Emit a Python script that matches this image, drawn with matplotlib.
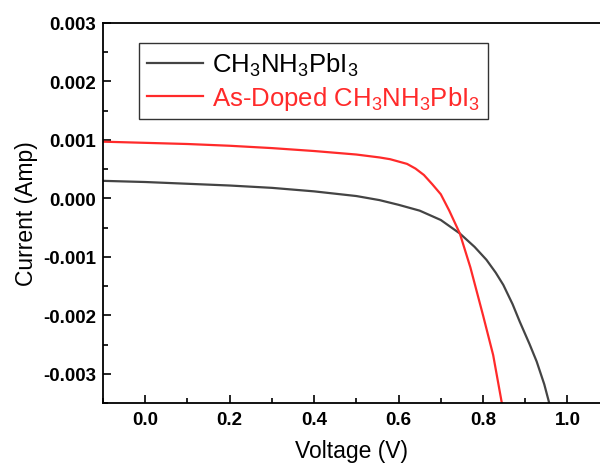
import matplotlib
matplotlib.use("Agg")
from matplotlib import pyplot as plt
from matplotlib.ticker import MultipleLocator, FormatStrFormatter

plt.rcParams['font.family'] = ['Liberation Sans', 'DejaVu Sans']
plt.rcParams['mathtext.default'] = 'regular'
plt.rcParams['axes.unicode_minus'] = False

# pristine film
v_pure = [-0.1, 0.0, 0.1, 0.2, 0.3, 0.4, 0.5, 0.555, 0.6, 0.65, 0.7,
          0.745, 0.78, 0.808, 0.83, 0.848, 0.87, 0.887, 0.91, 0.927,
          0.945, 0.956, 0.96]
i_pure = [0.00030, 0.00028, 0.00025, 0.00022, 0.00018, 0.00012, 0.00004,
          -0.00003, -0.00011, -0.00021, -0.00037, -0.0006, -0.00083,
          -0.00105, -0.00127, -0.00148, -0.00181, -0.00211, -0.00249,
          -0.00279, -0.00318, -0.00348, -0.0036]

# As-doped film
v_doped = [-0.1, 0.0, 0.1, 0.2, 0.3, 0.4, 0.5, 0.555, 0.58, 0.6, 0.62,
           0.64, 0.66, 0.68, 0.70, 0.72, 0.745, 0.77, 0.80, 0.824, 0.844,
           0.846]
i_doped = [0.00097, 0.00095, 0.00093, 0.00090, 0.00086, 0.00081, 0.00075,
           0.00070, 0.00067, 0.00063, 0.00059, 0.00051, 0.00040, 0.00024,
           0.00007, -0.00021, -0.0006, -0.00118, -0.0020, -0.00268,
           -0.00348, -0.0036]

labels = [r'CH$_3$NH$_3$PbI$_3$', r'As-Doped CH$_3$NH$_3$PbI$_3$']

fig = plt.figure(figsize=(6, 4.64), dpi=100)
ax = fig.add_axes([0.1717, 0.1293, 0.8283, 0.819])

ax.plot(v_pure, i_pure, color='#444444', lw=1.6, label=labels[0])
ax.plot(v_doped, i_doped, color='#ff2a2a', lw=1.6, label=labels[1])

ax.set_xlim(-0.1, 1.077)
ax.set_ylim(-0.0035, 0.003)
ax.spines['right'].set_visible(False)
for s in ['left', 'bottom', 'top']:
    ax.spines[s].set_linewidth(1.3)

ax.xaxis.set_major_locator(MultipleLocator(0.2))
ax.xaxis.set_minor_locator(MultipleLocator(0.1))
ax.yaxis.set_major_locator(MultipleLocator(0.001))
ax.yaxis.set_minor_locator(MultipleLocator(0.0005))
ax.xaxis.set_major_formatter(FormatStrFormatter('%.1f'))
ax.yaxis.set_major_formatter(FormatStrFormatter('%.3f'))
ax.tick_params(which='both', direction='in', top=False, right=False, width=1.2)
ax.tick_params(which='major', length=6, labelsize=13.5, pad=6)
ax.tick_params(axis='y', which='major', pad=5)
ax.tick_params(which='minor', length=3.5)
for t in ax.get_xticklabels() + ax.get_yticklabels():
    t.set_fontweight('bold')

ax.set_xlabel('Voltage (V)', fontsize=16.5, labelpad=8)
ax.set_ylabel('Current (Amp)', fontsize=16.5, labelpad=4)

leg = ax.legend(loc='upper left', bbox_to_anchor=(0.072, 0.947), borderaxespad=0,
                fontsize=18.5, frameon=True, fancybox=False, handlelength=2.2,
                handletextpad=0.35, labelspacing=0.22, borderpad=0.3)
leg.get_frame().set_edgecolor('black')
leg.get_frame().set_linewidth(1.0)
leg.get_texts()[1].set_color('#ff2a2a')

fig.savefig('out.png', dpi=100)
